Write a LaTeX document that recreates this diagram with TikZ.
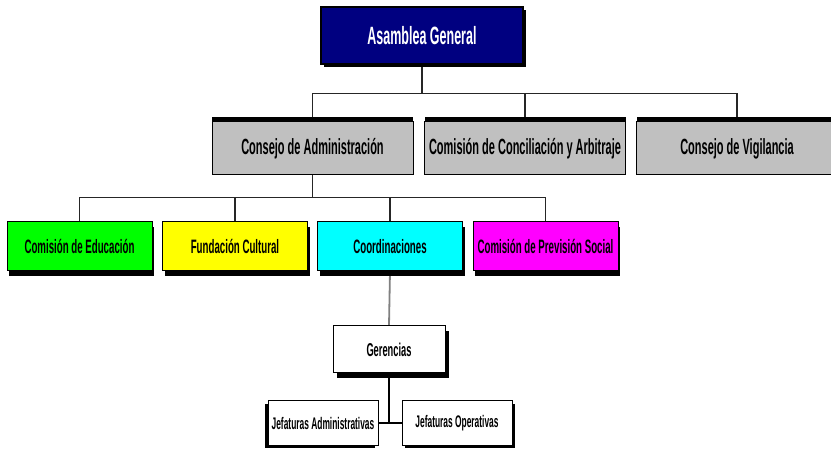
\documentclass[tikz,border=0pt]{standalone}
\usepackage{fontspec}
\newfontfamily\orgfont{Liberation Sans}[FakeStretch=0.5]
\usetikzlibrary{shadows,backgrounds}
\definecolor{navy}{RGB}{0,0,128}
\definecolor{boxgrey}{RGB}{192,192,192}
\definecolor{lime}{RGB}{0,255,0}
\definecolor{yel}{RGB}{255,255,0}
\definecolor{aqua}{RGB}{0,255,255}
\definecolor{fuchsia}{RGB}{255,0,255}
\tikzset{
  unitbox/.style={draw=black, line width=1pt, rectangle, inner sep=0pt,
    align=center, font=\orgfont\bfseries},
  shad/.style 2 args={drop shadow={shadow xshift=#1pt, shadow yshift=#2pt,
    fill=black, opacity=1}},
  toplevel/.style={unitbox, fill=navy, text=white, line width=1.6pt,
    minimum width=202pt, minimum height=57pt,
    font=\orgfont\bfseries\fontsize{25}{28}\selectfont, shad={3}{-3}},
  council/.style={unitbox, fill=boxgrey, minimum width=201pt, minimum height=53pt,
    font=\orgfont\bfseries\fontsize{22}{25}\selectfont, shad={0}{5}},
  committee/.style={unitbox, minimum width=145pt, minimum height=49pt,
    font=\orgfont\bfseries\fontsize{19.4}{22}\selectfont, shad={2}{-5}},
  management/.style={unitbox, fill=white, minimum width=112pt, minimum height=47pt,
    font=\orgfont\bfseries\fontsize{18.6}{21}\selectfont, shad={4}{-5}},
  office/.style={unitbox, fill=white, minimum width=110pt, minimum height=44pt,
    font=\orgfont\bfseries\fontsize{16.8}{19}\selectfont},
  link/.style={draw=black!85, line width=1.1pt},
  greylink/.style={draw=black!50, line width=1.8pt},
  thicklink/.style={draw=black, line width=2.4pt}
}
\begin{document}
\begin{tikzpicture}[x=1pt, y=-1pt]
\useasboundingbox (0,0) rectangle (831,449);

% connector junctions
\coordinate (bus1) at (423,93.5);
\coordinate (bus2) at (312.5,197.5);
\coordinate (jct) at (389,423);

% top level
\node[toplevel] (asam) at (422,35.5) {Asamblea General};

% councils
\node[council] (cadm) at (312.5,148.5) {Consejo de Administración};
\node[council] (conc) at (525,148.5) {Comisión de Conciliación y Arbitraje};
\node[council] (cvig) at (737,148.5) {Consejo de Vigilancia};

% committees
\node[committee, fill=lime] (edu) at (79.5,246.5) {Comisión de Educación};
\node[committee, fill=yel] (fund) at (235,246.5) {Fundación Cultural};
\node[committee, fill=aqua] (coord) at (390,246.5) {Coordinaciones};
\node[committee, fill=fuchsia] (prev) at (545.5,246.5) {Comisión de Previsión Social};

% management
\node[management] (ger) at (389,349.5) {Gerencias};
\node[office, shad={-3}{-3}] (jadm) at (323,423) {Jefaturas Administrativas};
\node[office, shad={3}{-3}] (jop) at (457,423) {Jefaturas Operativas};

% connectors, drawn behind the boxes
\begin{scope}[on background layer]
\draw[link] (asam.south) -- (asam.south |- bus1);
\draw[link] (cadm.north) |- (bus1) -| (cvig.north);
\draw[link] (bus1 -| conc.north) -- (conc.north);
\draw[link] (cadm.south) -- (bus2);
\draw[link] (edu.north) |- (bus2) -| (prev.north);
\draw[link] (bus2 -| fund.north) -- (fund.north);
\draw[link] (bus2 -| coord.north) -- (coord.north);
\draw[greylink] (coord.south) -- (ger.north);
\draw[thicklink] (ger.south) -- (jct);
\draw[thicklink] (jadm.east) -- (jop.west);
\end{scope}
\end{tikzpicture}
\end{document}
